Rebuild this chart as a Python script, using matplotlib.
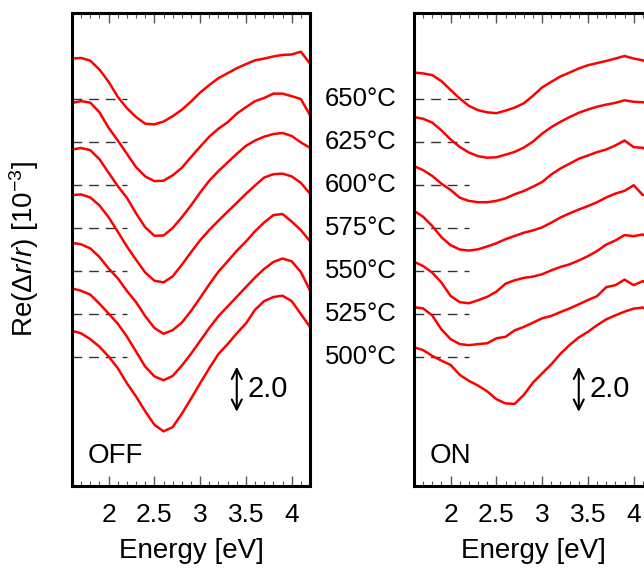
import numpy as np
import matplotlib
matplotlib.use('Agg')
import matplotlib.pyplot as plt
from matplotlib.ticker import MultipleLocator

plt.rcParams['font.family'] = ['Liberation Sans', 'DejaVu Sans']
plt.rcParams['mathtext.fontset'] = 'custom'
plt.rcParams['mathtext.rm'] = 'Liberation Sans'
plt.rcParams['mathtext.it'] = 'Liberation Sans:italic'

##### Data #####
energy = [1.6, 1.7, 1.8, 1.9, 2.0, 2.1, 2.2, 2.3, 2.4, 2.5, 2.6, 2.7, 2.8, 2.9,
          3.0, 3.1, 3.2, 3.3, 3.4, 3.5, 3.6, 3.7, 3.8, 3.9, 4.0, 4.1, 4.2]
temps = [500, 525, 550, 575, 600, 625, 650]
offsets = [0, 2, 4, 6, 8, 10, 12]     # vertical shift of each spectrum

# laser OFF
off_500 = [1.22, 1.10, 0.83, 0.48, 0.02, -0.52, -1.22, -1.84, -2.53, -3.15, -3.46, -3.26, -2.64, -1.94,
           -1.22, -0.52, 0.14, 0.60, 1.10, 1.56, 2.20, 2.60, 2.79, 2.85, 2.60, 2.00, 1.40]
off_525 = [1.19, 1.08, 0.90, 0.48, 0.02, -0.45, -1.05, -1.75, -2.45, -2.90, -3.08, -2.88, -2.40, -1.85,
           -1.25, -0.65, -0.10, 0.35, 0.80, 1.25, 1.70, 2.10, 2.42, 2.58, 2.45, 1.95, 1.10]
off_550 = [1.31, 1.24, 1.05, 0.65, 0.12, -0.34, -0.93, -1.45, -2.10, -2.65, -2.92, -2.75, -2.40, -1.86,
           -1.25, -0.62, -0.03, 0.45, 0.94, 1.37, 1.85, 2.26, 2.60, 2.65, 2.30, 1.90, 1.39]
off_575 = [1.53, 1.56, 1.42, 1.05, 0.50, -0.17, -0.86, -1.48, -2.07, -2.45, -2.53, -2.25, -1.71, -1.13,
           -0.57, -0.09, 0.34, 0.76, 1.17, 1.59, 1.98, 2.35, 2.50, 2.53, 2.40, 2.10, 1.60]
off_600 = [1.65, 1.72, 1.62, 1.20, 0.57, -0.05, -0.60, -1.32, -1.97, -2.36, -2.35, -2.00, -1.50, -0.95,
           -0.35, 0.20, 0.65, 1.05, 1.45, 1.82, 2.07, 2.25, 2.37, 2.42, 2.28, 1.98, 1.73]
off_625 = [1.82, 1.90, 1.83, 1.38, 0.66, 0.07, -0.55, -1.17, -1.60, -1.82, -1.80, -1.55, -1.20, -0.70,
           -0.22, 0.25, 0.62, 0.92, 1.32, 1.62, 1.90, 2.05, 2.25, 2.25, 2.13, 2.00, 1.25]
off_650 = [1.88, 1.91, 1.78, 1.37, 0.80, 0.10, -0.43, -0.84, -1.15, -1.18, -1.05, -0.80, -0.50, -0.12,
           0.30, 0.65, 0.97, 1.20, 1.43, 1.62, 1.80, 1.88, 1.98, 2.05, 2.07, 2.20, 1.65]

# laser ON
on_500 = [0.45, 0.32, 0.05, -0.17, -0.37, -0.83, -1.11, -1.33, -1.60, -1.96, -2.16, -2.18, -1.76, -1.19,
          -0.76, -0.34, 0.15, 0.56, 0.91, 1.17, 1.48, 1.75, 1.94, 2.11, 2.25, 2.30, 2.05]
on_525 = [0.32, 0.26, -0.07, -0.72, -1.17, -1.40, -1.45, -1.40, -1.36, -1.13, -1.06, -0.76, -0.60, -0.40,
          -0.20, -0.09, 0.09, 0.26, 0.45, 0.65, 0.83, 1.25, 1.34, 1.60, 1.34, 1.53, 1.30]
on_550 = [0.43, 0.23, -0.08, -0.54, -1.16, -1.45, -1.50, -1.36, -1.20, -0.96, -0.59, -0.43, -0.32, -0.26,
          -0.15, 0.03, 0.19, 0.31, 0.49, 0.69, 0.93, 1.23, 1.42, 1.67, 1.62, 1.70, 1.45]
on_575 = [0.80, 0.52, 0.09, -0.43, -0.80, -1.00, -1.05, -0.99, -0.86, -0.71, -0.52, -0.37, -0.22, -0.11,
          0.03, 0.25, 0.49, 0.68, 0.86, 1.02, 1.20, 1.42, 1.60, 1.73, 1.99, 1.53, 1.55]
on_600 = [0.88, 0.69, 0.42, 0.06, -0.23, -0.59, -0.74, -0.80, -0.80, -0.74, -0.62, -0.43, -0.28, -0.08,
          0.14, 0.49, 0.77, 0.99, 1.22, 1.37, 1.53, 1.65, 1.84, 2.07, 1.76, 1.73, 1.45]
on_625 = [1.16, 1.08, 0.90, 0.54, 0.12, -0.23, -0.49, -0.66, -0.73, -0.71, -0.59, -0.46, -0.26, 0.02,
          0.39, 0.69, 0.94, 1.16, 1.36, 1.51, 1.64, 1.74, 1.82, 1.94, 1.87, 1.85, 1.80]
on_650 = [1.23, 1.19, 1.11, 0.83, 0.42, 0.02, -0.32, -0.52, -0.62, -0.66, -0.54, -0.40, -0.20, 0.15,
          0.54, 0.80, 1.05, 1.23, 1.42, 1.57, 1.67, 1.77, 1.88, 2.00, 1.88, 1.80, 1.55]

off_curves = [off_500, off_525, off_550, off_575, off_600, off_625, off_650]
on_curves = [on_500, on_525, on_550, on_575, on_600, on_625, on_650]


def draw_panel(ax, curves, tag):
    for off, vals in zip(offsets, curves):
        ax.plot([1.6, 2.2], [off, off], ls=(0, (7, 5)), lw=1.0, color='#333333')
        ax.plot(energy, np.array(vals) + off, color='red', lw=1.8)
    ax.set_xlim(1.6, 4.2)
    ax.set_ylim(-6, 16)
    ax.set_xticks([2, 2.5, 3, 3.5, 4])
    ax.set_xticklabels(['2', '2.5', '3', '3.5', '4'])
    ax.xaxis.set_minor_locator(MultipleLocator(0.1))
    ax.set_yticks([])
    ax.tick_params(axis='x', which='both', direction='in', top=True, bottom=True,
                   color='#555555', labelsize=19, pad=12)
    ax.tick_params(axis='x', which='major', length=7, width=1)
    ax.tick_params(axis='x', which='minor', length=3.5, width=0.8)
    for sp in ax.spines.values():
        sp.set_linewidth(2.2)
    ax.set_xlabel('Energy [eV]', fontsize=20)
    ax.xaxis.set_label_coords(0.5, -0.11)
    ax.text(0.067, 0.049, tag, transform=ax.transAxes, fontsize=20,
            ha='left', va='baseline')
    # scale bar
    ax.annotate('', xy=(3.4, -0.45), xytext=(3.4, -2.55),
                arrowprops=dict(arrowstyle='<->', color='black', lw=1.5,
                                mutation_scale=18, shrinkA=0, shrinkB=0))
    ax.text(3.52, -1.5, '2.0', fontsize=21, ha='left', va='center')


fig = plt.figure(figsize=(6.44, 5.71), dpi=100)
ax_off = fig.add_axes([72/644, 1 - 486/571, 238/644, 473/571])
ax_on = fig.add_axes([414/644, 1 - 486/571, 238/644, 473/571])

draw_panel(ax_off, off_curves, 'OFF')
draw_panel(ax_on, on_curves, 'ON')

ax_off.set_ylabel(r'Re($\mathit{\Delta r/r}$) [10$^{-3}$]', fontsize=20)
ax_off.yaxis.set_label_coords(-0.13, 0.5)

for t, off in zip(temps, offsets):
    ax_off.text(1.063, off, '{}°C'.format(t), transform=ax_off.get_yaxis_transform(),
                fontsize=18.5, ha='left', va='center')

fig.savefig('out.png', dpi=100)
